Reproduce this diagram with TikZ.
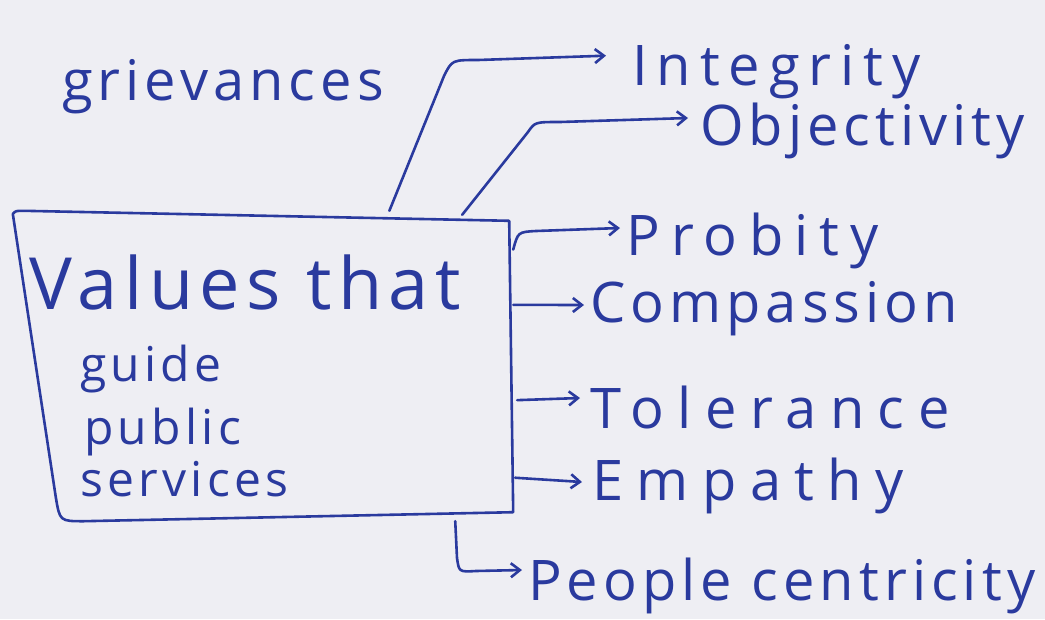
\documentclass[tikz,border=0pt]{standalone}
\usepackage{fontspec}
\setmainfont{Open Sans}
\newfontfamily\hand[LetterSpace=9]{Open Sans}
\usetikzlibrary{arrows.meta,calc}
\definecolor{ink}{RGB}{42,58,158}
\definecolor{paper}{RGB}{238,238,243}
\tikzset{
  pen/.style={draw=ink, line width=2.6pt, line cap=round, line join=round},
  link/.style={pen, -{Straight Barb[length=9pt,width=14pt]}},
  word/.style={anchor=base west, inner sep=6pt, text=ink, font=\hand\fontsize{56}{60}\selectfont},
  spaced/.style={font=\hand\fontsize{56}{60}\selectfont\addfontfeature{LetterSpace=#1}},
  boxword/.style={anchor=base west, inner sep=0pt, text=ink, font=\hand\fontsize{48}{52}\selectfont},
}
\begin{document}
\begin{tikzpicture}[x=1pt,y=-1pt]
% paper and page frame
\fill[paper] (0,0) rectangle (1045,619);
\useasboundingbox (0,0) rectangle (1045,619);

% heading
\node[word] (griev) at (56,100) {grievances};

% central box: sharp corners except the rounded lower left one
\node[minimum width=495pt, minimum height=310pt, inner sep=0pt] (box) at (265.5,366) {};
\draw[pen]
  ([shift={(-5,3)}]box.north west) .. controls ([shift={(-2,0)}]box.north west) .. ([shift={(6,0)}]box.north west)
  -- ([shift={(-4,10)}]box.north east)
  -- ([shift={(0,-9)}]box.south east) -- ([shift={(66,0)}]box.south west)
  .. controls ([shift={(42,0)}]box.south west) .. ([shift={(38,-24)}]box.south west)
  -- ([shift={(-5,3)}]box.north west);
\node[boxword, font=\hand\fontsize{72}{76}\selectfont] (l1) at ($(box.north west)+(12,99)$) {Values that};
\node[boxword] (l2) at ($(box.north west)+(62,171)$) {guide};
\node[boxword] (l3) at ($(box.north west)+(66,234)$) {public};
\node[boxword] (l4) at ($(box.north west)+(62,286)$) {services};

% values
\node[word, spaced=16] (integ) at (626,85)  {Integrity};
\node[word] (objec) at (694,145) {Objectivity};
\node[word, spaced=20] (prob)  at (620,255) {Probity};
\node[word] (comp)  at (584,322) {Compassion};
\node[word, spaced=24] (tole)  at (584,428) {Tolerance};
\node[word, spaced=24] (empa)  at (586,500) {Empathy};
\node[word] (peop)  at (522,600) {People centricity};

% start points on the box outline
\coordinate (s1) at ($(box.north west)!0.75!(box.north east)$);
\coordinate (s2) at ($(box.north west)!0.897!(box.north east)+(0,4)$);
\coordinate (s3) at ($(box.north east)!0.125!(box.south east)$);
\coordinate (s4) at ($(box.north east)!0.303!(box.south east)$);
\coordinate (s5) at ($(box.north east)!0.61!(box.south east)+(4,0)$);
\coordinate (s6) at ($(box.north east)!0.86!(box.south east)+(2,0)$);
\coordinate (s7) at ($(box.south west)!0.883!(box.south east)$);

% connectors
\draw[link, shorten >=20pt] (s1) -- (444,76) .. controls (452,60) .. (478,60)
  -- ([shift={(0,-30)}]integ.base west);
\draw[link] (s2) -- (528,132) .. controls (535,122) .. (560,122)
  -- ([shift={(-6,-27)}]objec.base west);
\draw[link] (s3) .. controls (518,232) .. (536,231)
  -- ([shift={(0,-27)}]prob.base west);
\draw[link] (s4) -- ([shift={(0,-17)}]comp.base west);
\draw[link] (s5) -- ([shift={(-4,-30)}]tole.base west);
\draw[link] (s6) -- ([shift={(-4,-18)}]empa.base west);
\draw[link] (s7) -- (457,558) .. controls (459,572) .. (476,571)
  -- ([shift={(0,-30)}]peop.base west);
\end{tikzpicture}
\end{document}
